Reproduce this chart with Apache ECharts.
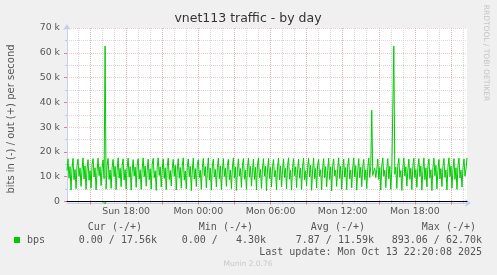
<!DOCTYPE html>
<html><head><meta charset="utf-8">
<script src="https://cdn.jsdelivr.net/npm/echarts@6/dist/echarts.min.js"></script>
<style>html,body{margin:0;padding:0;background:#f0f0f0}#c{width:497px;height:275px}</style>
</head><body><div id="c"></div>
<script>
// time axis: one sample every 5 minutes, starting Sun 13:05, ending Mon 22:20
const startMinutes = 13 * 60 + 5;   // minutes after Sun 00:00
const stepMinutes = 5;
const dayNames = ['Sun', 'Mon'];
// out (+) traffic, kbit/s
const outK = [
12.5,17.2,9.4,14.1,4.6,13.2,17.4,8.8,12.9,5.2,14.6,17.1,10.2,13.5,6.1,12.8,17.6,9.1,14.3,4.9,
13.1,16.9,8.6,12.4,5.5,14.8,17.3,9.9,13.6,4.7,12.2,17.5,10.4,14.0,6.4,13.3,16.8,9.2,62.7,5.0,
14.4,17.4,8.9,12.7,5.3,13.8,17.0,10.1,14.2,4.8,12.6,17.6,9.5,13.4,6.0,14.5,17.2,8.7,12.9,5.1,
13.7,17.5,9.8,14.1,4.6,12.3,16.9,10.3,13.9,5.7,14.7,17.3,9.0,12.8,4.9,13.5,17.6,10.0,14.3,6.2,
12.6,17.1,8.8,13.2,5.0,14.9,17.4,9.6,12.4,4.5,13.9,17.6,10.5,14.0,5.8,12.9,17.2,9.3,13.6,4.8,
14.2,17.5,8.9,12.5,6.3,13.4,17.0,10.2,14.6,4.7,12.8,17.3,9.4,13.7,5.4,14.4,17.6,8.6,12.3,5.1,
13.8,17.2,10.0,14.2,4.4,12.7,17.5,9.1,13.3,6.0,14.8,16.9,9.7,12.6,4.9,13.6,17.4,10.4,14.1,5.5,
12.4,17.6,8.7,13.5,4.6,14.3,17.1,9.9,12.9,5.9,13.7,17.5,9.2,14.4,4.8,12.5,17.3,10.1,13.4,6.1,
14.6,17.0,8.8,12.7,5.2,13.9,17.6,9.5,14.0,4.5,12.8,17.2,10.3,13.3,5.7,14.5,17.4,9.0,12.6,4.9,
13.6,17.5,9.8,14.2,6.2,12.4,17.1,8.9,13.8,4.7,14.7,17.6,9.6,12.9,5.3,13.5,17.3,10.2,14.3,4.4,
12.7,17.4,9.3,13.7,5.8,14.1,16.9,10.0,12.5,4.8,13.9,17.5,8.7,14.4,6.0,12.8,17.2,9.7,13.4,5.1,
14.5,17.6,9.0,12.6,4.6,13.7,17.3,10.4,14.0,5.6,12.9,17.1,9.4,13.5,4.9,14.2,17.5,8.8,12.4,6.3,
13.8,17.4,9.9,14.6,4.5,12.7,17.6,9.2,13.3,5.4,14.8,17.0,10.1,12.8,4.7,13.6,17.3,9.6,14.1,5.9,
12.5,17.5,8.9,13.9,4.3,14.4,17.2,10.3,12.6,6.1,13.4,17.6,9.3,14.2,5.0,12.9,17.1,9.8,13.7,4.8,
14.3,17.4,9.1,12.7,5.5,13.5,17.6,10.0,14.5,4.6,12.4,17.3,9.5,13.8,6.0,14.0,17.0,8.8,12.8,5.2,
13.6,17.5,9.7,14.1,36.8,10.5,12.2,13.4,9.6,12.9,17.2,8.9,13.7,4.7,14.4,17.6,10.2,12.6,5.6,13.5,
17.3,9.2,14.2,4.9,12.8,13.1,62.7,11.0,13.9,5.3,14.6,17.4,9.8,12.5,4.5,13.6,17.6,10.3,14.0,6.2,
12.7,17.1,9.0,13.4,4.8,14.5,17.5,9.6,12.9,5.7,13.8,17.3,10.1,14.3,4.6,12.6,17.6,8.8,13.5,5.9,
14.1,17.2,9.4,12.8,4.4,13.7,17.5,10.4,14.6,5.1,12.5,17.0,9.1,13.3,6.0,14.2,17.4,9.7,12.7,4.7,
13.9,17.6,10.0,14.4,5.4,12.9,17.3,8.9,13.6,4.9,14.5,17.5,9.5,12.6,5.8,13.8,17.2,10.2,12.9,17.56
];
// in (-) traffic, kbit/s (drawn negative)
const inK = [
0,0,0,0,0,0,0,0,0,0,0,0,0,0,0,0,0,0,0,0,
0,0,0,0,0,0,0,0,0,0,0,0,0,0,0,0,0,0,-0.893,0,
0,0,0,0,0,0,0,0,0,0,0,0,0,0,0,0,0,0,0,0,
0,0,0,0,0,0,0,0,0,0,0,0,0,0,0,0,0,0,0,0,
0,0,0,0,0,0,0,0,0,0,0,0,0,0,0,0,0,0,0,0,
0,0,0,0,0,0,0,0,0,0,0,0,0,0,0,0,0,0,0,0,
0,0,0,0,0,0,0,0,0,0,0,0,0,0,0,0,0,0,0,0,
0,0,0,0,0,0,0,0,0,0,0,0,0,0,0,0,0,0,0,0,
0,0,0,0,0,0,0,0,0,0,0,0,0,0,0,0,0,0,0,0,
0,0,0,0,0,0,0,0,0,0,0,0,0,0,0,0,0,0,0,0,
0,0,0,0,0,0,0,0,0,0,0,0,0,0,0,0,0,0,0,0,
0,0,0,0,0,0,0,0,0,0,0,0,0,0,0,0,0,0,0,0,
0,0,0,0,0,0,0,0,0,0,0,0,0,0,0,0,0,0,0,0,
0,0,0,0,0,0,0,0,0,0,0,0,0,0,0,0,0,0,0,0,
0,0,0,0,0,0,0,0,0,0,0,0,0,0,0,0,0,0,0,0,
0,0,0,0,-0.5,0,0,0,0,0,0,0,0,0,0,0,0,0,0,0,
0,0,0,0,0,0,0,0,0,0,0,0,0,0,0,0,0,0,0,0,
0,0,0,0,0,0,0,0,0,0,0,0,0,0,0,0,0,0,0,0,
0,0,0,0,0,0,0,0,0,0,0,0,0,0,0,0,0,0,0,0,
0,0,0,0,0,0,0,0,0,0,0,0,0,0,0,0,0,0,0,0
];
const yTicks = [0, 10, 20, 30, 40, 50, 60, 70];
const statHeaders = ['Cur (-/+)', 'Min (-/+)', 'Avg (-/+)', 'Max (-/+)'];
const statValues = ['0.00 / 17.56k', '0.00 /   4.30k', '7.87 / 11.59k', '893.06 / 62.70k'];
const seriesName = 'bps';
const titleText = 'vnet113 traffic - by day';
const yName = 'bits in (-) / out (+) per second';
const lastUpdate = 'Last update: Mon Oct 13 22:20:08 2025';
const footer = 'Munin 2.0.76';
const sideText = 'RRDTOOL / TOBI OETIKER';

const pad = n => (n < 10 ? '0' : '') + n;
const mins = outK.map((_, i) => startMinutes + i * stepMinutes);
const cats = mins.map(m => dayNames[Math.floor(m / 1440)] + ' ' + pad(Math.floor((m % 1440) / 60)) + ':' + pad(m % 60));
const every = k => (i) => mins[i] % k === 0;

const GREEN = '#00cc00';
const AXIS = '#c8cff5';
const MGRID = 'rgba(220,110,110,0.38)';
const GRID = '#d8d8d8';
const SANS = 'DejaVu Sans';
const MONO = 'DejaVu Sans Mono';

const baseX = {type: 'category', data: cats, boundaryGap: false, gridIndex: 0, position: 'bottom',
  axisLine: {show: false}, axisTick: {show: false}, axisLabel: {show: false}, splitLine: {show: false}};

const chart = echarts.init(document.getElementById('c'), null, {renderer: 'canvas'});
const monoFont = '10px "' + MONO + '"';
const headerX = [142, 253, 365, 476];
const valueX = [157, 266, 374, 482];
const graphics = [
  {type: 'text', x: 248, y: 19, style: {text: titleText, fill: '#333', font: '12.5px "' + SANS + '"', align: 'center', verticalAlign: 'middle'}},
  {type: 'text', x: 11, y: 119, rotation: Math.PI / 2, style: {text: yName, fill: '#555', font: '10px "' + SANS + '"', align: 'center', verticalAlign: 'middle'}},
  {type: 'text', x: 486, y: 53, rotation: -Math.PI / 2, style: {text: sideText, fill: '#c4c4c4', font: '7.5px "' + SANS + '"', align: 'center', verticalAlign: 'middle'}},
  {type: 'rect', shape: {x: 14, y: 237, width: 6, height: 6}, style: {fill: GREEN}},
  {type: 'text', x: 27, y: 240, style: {text: seriesName, fill: '#555', font: monoFont, align: 'left', verticalAlign: 'middle'}},
  {type: 'text', x: 482, y: 252, style: {text: lastUpdate, fill: '#555', font: monoFont, align: 'right', verticalAlign: 'middle'}},
  {type: 'text', x: 248, y: 264, style: {text: footer, fill: '#c8c8c8', font: '7.5px "' + SANS + '"', align: 'center', verticalAlign: 'middle'}}
];
statHeaders.forEach((t, k) => graphics.push({type: 'text', x: headerX[k], y: 227, style: {text: t, fill: '#555', font: monoFont, align: 'right', verticalAlign: 'middle'}}));
statValues.forEach((t, k) => graphics.push({type: 'text', x: valueX[k], y: 240, style: {text: t, fill: '#555', font: monoFont, align: 'right', verticalAlign: 'middle'}}));

chart.setOption({
  backgroundColor: '#f0f0f0',
  animation: false,
  grid: {left: 67, right: 30, top: 28, bottom: 73.5, show: true, backgroundColor: '#ffffff', borderWidth: 0},
  xAxis: [
    Object.assign({}, baseX, {
      splitLine: {show: true, interval: every(60), lineStyle: {color: GRID, width: 1, type: [1, 1]}},
      axisTick: {show: true, interval: every(60), length: 2, lineStyle: {color: '#c8c8c8'}}
    }),
    Object.assign({}, baseX, {
      splitLine: {show: true, interval: every(180), lineStyle: {color: MGRID, width: 1, type: [1, 1]}},
      axisTick: {show: true, interval: every(180), length: 3, lineStyle: {color: '#e08080'}},
      axisLabel: {show: true, interval: every(360), margin: 6, color: '#555', fontFamily: SANS, fontSize: 9.4}
    }),
    Object.assign({}, baseX, {z: 10,
      axisLine: {show: true, lineStyle: {color: '#000', width: 1}}
    }),
    Object.assign({}, baseX, {offset: 1.5,
      axisLine: {show: true, symbol: ['none', 'arrow'], symbolSize: [6, 6], symbolOffset: [0, 4], lineStyle: {color: AXIS, width: 1}}
    })
  ],
  yAxis: [{
    type: 'value', min: 0, max: 70, interval: 10,
    axisLine: {show: true, symbol: ['none', 'arrow'], symbolSize: [6, 6], symbolOffset: [0, 4], lineStyle: {color: AXIS}},
    axisTick: {show: true, length: 3, lineStyle: {color: '#e08080'}},
    minorTick: {show: true, splitNumber: 2, length: 2, lineStyle: {color: '#c8c8c8'}},
    splitLine: {show: true, lineStyle: {color: MGRID, width: 1, type: [1, 1]}},
    minorSplitLine: {show: true, lineStyle: {color: GRID, width: 1, type: [1, 1]}},
    axisLabel: {margin: 7, color: '#555', fontFamily: SANS, fontSize: 9.4,
      formatter: v => (yTicks.indexOf(v) >= 0 ? (v === 0 ? '0' : v + ' k') : '')}
  }],
  series: [
    {name: seriesName + ' out', type: 'line', xAxisIndex: 0, yAxisIndex: 0, data: outK, symbol: 'none', clip: false,
      lineStyle: {color: GREEN, width: 1}, z: 2},
    {name: seriesName + ' in', type: 'line', xAxisIndex: 0, yAxisIndex: 0, data: inK, symbol: 'none', clip: false,
      lineStyle: {color: GREEN, width: 1}, z: 2}
  ],
  graphic: graphics
});
</script></body></html>
